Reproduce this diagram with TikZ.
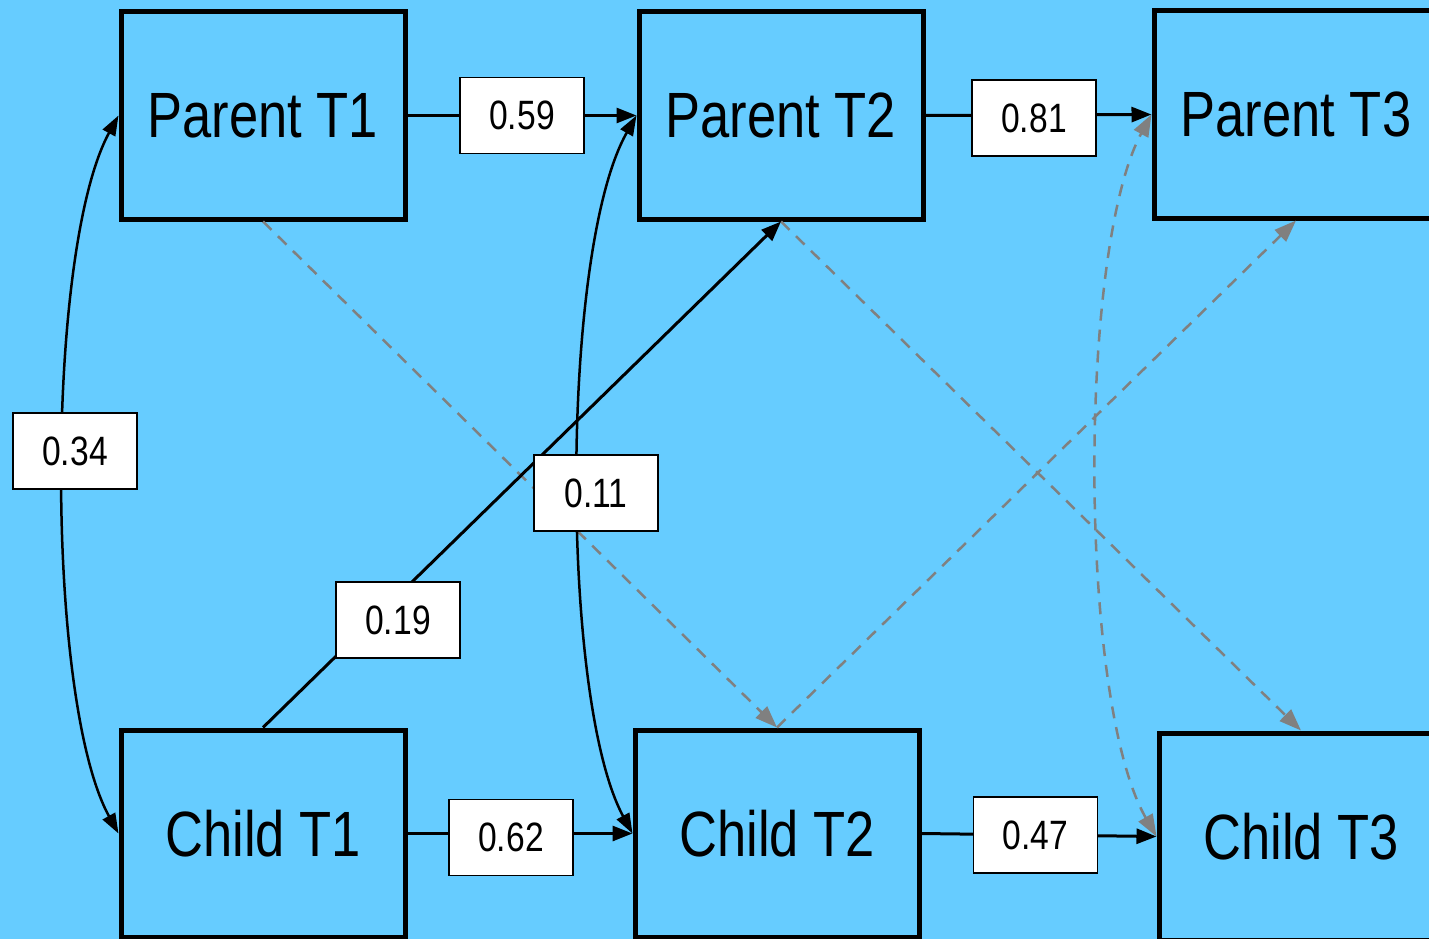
\documentclass[tikz,border=0pt]{standalone}
\usepackage{fontspec}
\setmainfont{Liberation Sans}[FakeStretch=0.82]
\usetikzlibrary{arrows.meta}
\definecolor{bg}{RGB}{102,204,255}
\definecolor{dgray}{RGB}{128,128,128}
\tikzset{
  var/.style={draw=black, line width=5pt, fill=bg, rectangle, minimum width=284pt, minimum height=207pt, inner sep=0pt, font=\fontsize{64}{70}\selectfont},
  coef/.style={draw=black, line width=1.5pt, fill=white, rectangle, minimum width=124pt, minimum height=76pt, inner sep=0pt, font=\fontsize{41}{46}\selectfont},
  path/.style={draw=black, line width=3pt, -{Triangle[length=20pt,width=15pt]}},
  cov/.style={draw=black, line width=2.5pt, {Triangle[length=20pt,width=14pt]}-{Triangle[length=20pt,width=14pt]}},
  cross/.style={draw=dgray, line width=2.5pt, dash pattern=on 12pt off 9pt, -{Triangle[length=22pt,width=16pt]}},
  crosscov/.style={draw=dgray, line width=2.5pt, dash pattern=on 12pt off 9pt, {Triangle[length=22pt,width=16pt]}-{Triangle[length=22pt,width=16pt]}}
}
\begin{document}
\begin{tikzpicture}[x=1pt,y=-1pt]
\useasboundingbox (0,0) rectangle (1429,939);
\clip (0,0) rectangle (1429,939);
\fill[bg] (0,0) rectangle (1429,939);
\node[var] (pt1) at (263,115.5) {Parent T1};
\node[var] (pt2) at (781,115.5) {Parent T2};
\node[var] (pt3) at (1296,114.5) {Parent T3};
\node[var] (ct1) at (263,833.5) {Child T1};
\node[var] (ct2) at (777,833.5) {Child T2};
\node[var] (ct3) at (1301,836.5) {Child T3};
% dashed cross-lagged paths
\draw[cross] (pt1.south) -- (ct2.north);
\draw[cross] (ct2.north) -- (pt3.south);
\draw[cross] (pt2.south) -- (ct3.north);
\draw[crosscov] (ct3.west) .. controls (1078,700) and (1078,250) .. (pt3.west);
% solid paths
\draw[path] (pt1.east) -- node[coef, pos=0.5] (l59) {0.59} (pt2.west);
\draw[path] (pt2.east) -- node[coef, pos=0.48, yshift=-3pt] (l81) {0.81} (pt3.west);
\draw[path] (ct1.east) -- node[coef, pos=0.46, yshift=-4pt] (l62) {0.62} (ct2.west);
\draw[path] (ct2.east) -- node[coef, pos=0.485] (l47) {0.47} (ct3.west);
\draw[path] (ct1.north) -- (pt2.south);
\node[coef] (l19) at (398,620) {0.19};
\draw[cov] (ct1.west) .. controls (45,700) and (45,250) .. (pt1.west);
\node[coef] (l34) at (75,451) {0.34};
\draw[cov] (ct2.west) .. controls (560,700) and (560,250) .. (pt2.west);
\node[coef] (l11) at (596,493) {0.11};
\end{tikzpicture}
\end{document}
